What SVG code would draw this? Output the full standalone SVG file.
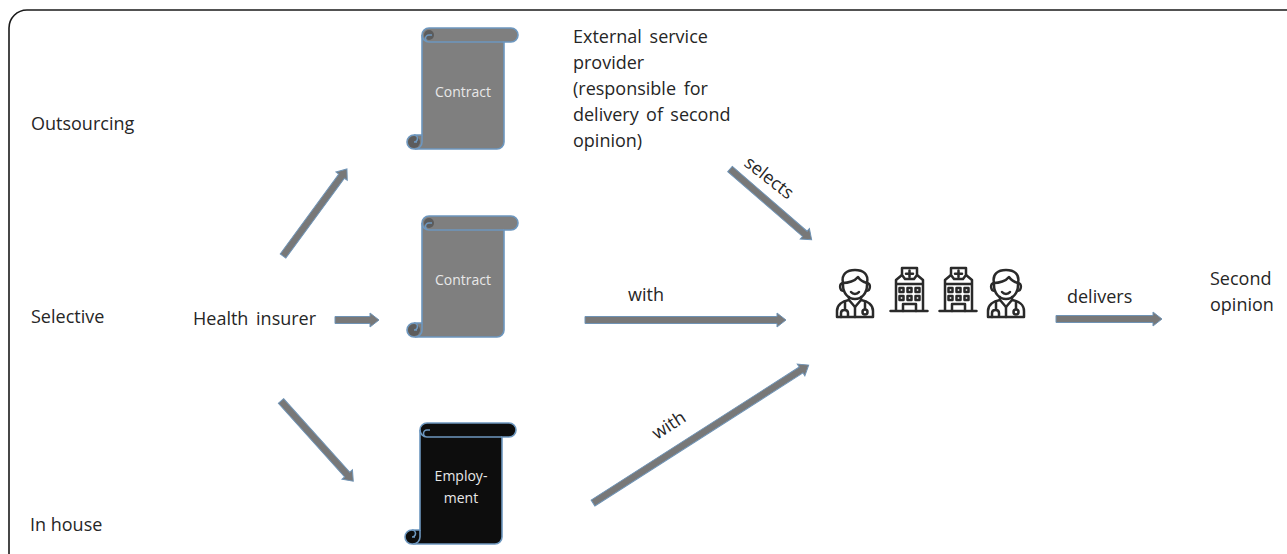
<svg xmlns="http://www.w3.org/2000/svg" xmlns:xlink="http://www.w3.org/1999/xlink" width="1287" height="554" viewBox="0 0 1287 554">
<style>
text{font-family:"Open Sans","Noto Sans","Liberation Sans",sans-serif;font-size:18px;fill:#262626}
.w{fill:#e8e8e8;font-size:14px;text-anchor:middle}
.arrow{fill:#787878;stroke:#6f93b5;stroke-width:1;stroke-linejoin:miter}
.s{stroke:#6d97bf;stroke-width:1.6}
.i{fill:none;stroke:#2a2a2a;stroke-width:2.500;stroke-linecap:round;stroke-linejoin:round}
</style>
<defs>
<path id="sb" d="M7 0H89a7 7 0 0 1 0 14H82V114a7 7 0 0 1-7 7H-8a7 7 0 0 1 0-14H0V7a7 7 0 0 1 7-7Z"/>
<path id="sl" fill="none" d="M0 7a7 7 0 0 0 7 7H82M7 14a3.500 3.500 0 0 1 0-7h3M0 107V114a7 7 0 0 1-7 7M-8 107a3.500 3.500 0 0 1 0 7h3"/>
<g id="doctor" class="i">
<path d="M7 14V16C7 24 12 30 19 30S31 24 31 16V14"/>
<path d="M7 14C3 14 3 22 8 22M31 14C35 14 35 22 30 22"/>
<path d="M7 14C5 5 11 1 19 1S33 5 31 14C27 13 24 11 22 8 19 12 12 14 7 14Z"/>
<path d="M15 23C17 25.500 21 25.500 23 23"/>
<path d="M13 28V31L19 38 25 31V28"/>
<path d="M13 31C6 32 1 36 1 42V48H37V42C37 36 32 32 25 31"/>
<path d="M19 38V48M5 48V44C5 40 12 40 12 44V47M9 33V40M29 33V40"/>
<circle cx="29" cy="43" r="2.500"/>
</g>
<g id="hospital" class="i">
<path d="M7 44V13L13 8M34 44V13L28 8M7 17H34M1.500 44H38.500"/>
<path d="M13 8V1H28V8L25 12H16Z"/>
<path d="M20.500 3.500V10M17 6.800H24"/>
<path d="M10.500 21h4v4h-4zM18.500 21h4v4h-4zM26.500 21h4v4h-4zM10.500 29h4v4h-4zM18.500 29h4v4h-4zM26.500 29h4v4h-4zM14 44V37H27V44"/>
</g>
</defs>

<path id="frame" d="M9 554V28a18 18 0 0 1 18-18H1287" fill="none" stroke="#1a1a1a" stroke-width="1.600"/>

<g id="connectors">
<path class="arrow" transform="translate(283 256) rotate(-53.7)" d="M0-3.500H99V-7L108 0 99 7V3.500H0Z"/>
<path class="arrow" transform="translate(335 320)" d="M0-3.500H35V-7L44 0 35 7V3.500H0Z"/>
<path class="arrow" transform="translate(281 401) rotate(48)" d="M0-3.500H99V-7L108 0 99 7V3.500H0Z"/>
<path class="arrow" transform="translate(730 169) rotate(40.9)" d="M0-3.500H99V-7L108 0 99 7V3.500H0Z"/>
<path class="arrow" transform="translate(585 320)" d="M0-3.500H192V-7L201 0 192 7V3.500H0Z"/>
<path class="arrow" transform="translate(593 503) rotate(-32.6)" d="M0-3.500H247V-7L256 0 247 7V3.500H0Z"/>
<path class="arrow" transform="translate(1056 319)" d="M0-3.500H97V-7L106 0 97 7V3.500H0Z"/>
</g>

<g id="scroll-outsourcing" transform="translate(422 28)">
<use xlink:href="#sb" href="#sb" fill="#7f7f7f" class="s"/>
<circle cx="7" cy="7" r="5" fill="#5c5c5c"/><circle cx="-8" cy="114" r="6" fill="#5c5c5c"/>
<use xlink:href="#sl" href="#sl" class="s"/>
<text class="w" x="41" y="69">Contract</text>
</g>
<g id="scroll-selective" transform="translate(422 216)">
<use xlink:href="#sb" href="#sb" fill="#7f7f7f" class="s"/>
<circle cx="7" cy="7" r="5" fill="#5c5c5c"/><circle cx="-8" cy="114" r="6" fill="#5c5c5c"/>
<use xlink:href="#sl" href="#sl" class="s"/>
<text class="w" x="41" y="69">Contract</text>
</g>
<g id="scroll-inhouse" transform="translate(420 423)">
<use xlink:href="#sb" href="#sb" fill="#0d0d0d" class="s"/>
<use xlink:href="#sl" href="#sl" class="s"/>
<text class="w" x="41" y="58">Employ-</text>
<text class="w" x="41" y="80">ment</text>
</g>

<g id="label-outsourcing"><text x="31" y="130">Outsourcing</text></g>
<g id="label-selective"><text x="31" y="323">Selective</text></g>
<g id="label-inhouse"><text x="30" y="531">In house</text></g>
<g id="health-insurer"><text x="193" y="325" word-spacing="3">Health insurer</text></g>
<g id="external-provider">
<text x="573" y="43" word-spacing="3">External service</text>
<text x="573" y="69">provider</text>
<text x="573" y="95" word-spacing="3">(responsible for</text>
<text x="573" y="121" word-spacing="2.700">delivery of second</text>
<text x="573" y="147">opinion)</text>
</g>
<g id="second-opinion"><text x="1210" y="285">Second</text><text x="1210" y="311">opinion</text></g>
<g id="connector-labels">
<text x="628" y="301">with</text>
<text x="1067" y="303">delivers</text>
<text transform="translate(657 440) rotate(-33)">with</text>
<text transform="translate(743 165) rotate(38)">selects</text>
</g>

<g id="doctor-1"><use xlink:href="#doctor" href="#doctor" x="836" y="269"/></g>
<g id="hospital-1"><use xlink:href="#hospital" href="#hospital" x="889" y="267"/></g>
<g id="hospital-2"><use xlink:href="#hospital" href="#hospital" x="938" y="267"/></g>
<g id="doctor-2"><use xlink:href="#doctor" href="#doctor" x="987" y="269"/></g>
</svg>
